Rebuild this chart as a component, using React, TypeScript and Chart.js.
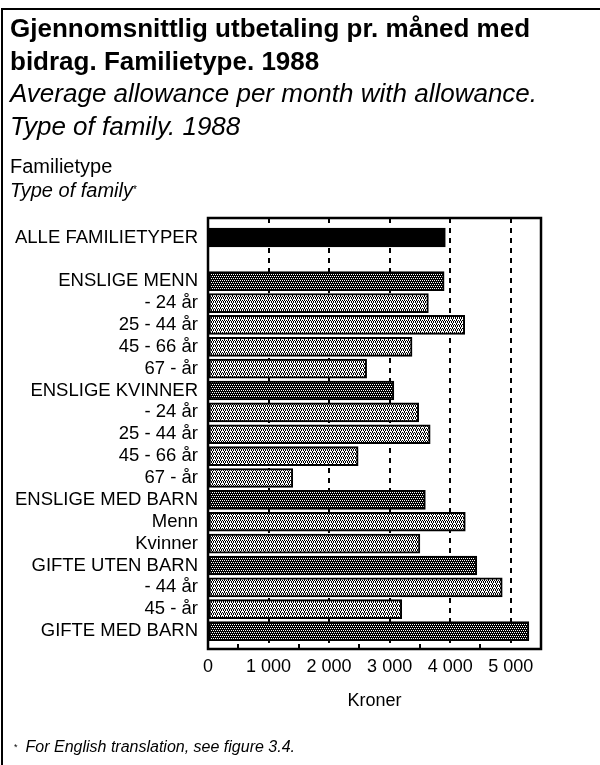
import React, { useEffect, useRef } from 'react';
import { Chart, registerables } from 'chart.js';

Chart.register(...registerables);

const FONT = "'Liberation Sans', Arial, Helvetica, sans-serif";

// ---- data ----
const categories = [
  'ALLE FAMILIETYPER',
  '',
  'ENSLIGE MENN',
  '- 24 år',
  '25 - 44 år',
  '45 - 66 år',
  '67 - år',
  'ENSLIGE KVINNER',
  '- 24 år',
  '25 - 44 år',
  '45 - 66 år',
  '67 - år',
  'ENSLIGE MED BARN',
  'Menn',
  'Kvinner',
  'GIFTE UTEN BARN',
  '- 44 år',
  '45 - år',
  'GIFTE MED BARN',
];
const levels = [
  'total', 'gap',
  'group', 'sub', 'sub', 'sub', 'sub',
  'group', 'sub', 'sub', 'sub', 'sub',
  'group', 'sub', 'sub',
  'group', 'sub', 'sub',
  'group',
];
const allowance: (number | null)[] = [
  3920, null,
  3900, 3640, 4240, 3370, 2620,
  3070, 3480, 3670, 2480, 1400,
  3590, 4250, 3500,
  4440, 4860, 3200,
  5300,
];
const xTicks = [0, 1000, 2000, 3000, 4000, 5000];
const minorTicks = [500, 1500, 2500, 3500, 4500];
const xMax = 5500;

const fmt = (v: number) => String(v).replace(/\B(?=(\d{3})+(?!\d))/g, ' ');

const framePlugin = {
  id: 'frame',
  afterDatasetsDraw(chart: any) {
    const { ctx, chartArea: a, scales } = chart;
    const x = scales.x;
    ctx.save();
    ctx.strokeStyle = '#000';
    ctx.lineWidth = 2.5;
    ctx.strokeRect(a.left, a.top, a.right - a.left, a.bottom - a.top);
    ctx.lineWidth = 2;
    minorTicks.forEach((v) => {
      const px = Math.round(x.getPixelForValue(v));
      ctx.beginPath();
      ctx.moveTo(px, a.bottom);
      ctx.lineTo(px, a.bottom - 5);
      ctx.stroke();
    });
    ctx.restore();
  },
};

export default function App() {
  const ref = useRef<HTMLCanvasElement>(null);

  useEffect(() => {
    const canvas = ref.current!;
    const ctx = canvas.getContext('2d')!;
    const tile = (bg: string, fg: string, dots: number[][]) => {
      const c = document.createElement('canvas');
      c.width = 4;
      c.height = 4;
      const g = c.getContext('2d')!;
      g.fillStyle = bg;
      g.fillRect(0, 0, 4, 4);
      g.fillStyle = fg;
      dots.forEach(([dx, dy]) => g.fillRect(dx, dy, 1, 1));
      return ctx.createPattern(c, 'repeat')!;
    };
    const dark = tile('#000', '#fff', [[0, 0], [2, 0], [1, 2], [3, 2]]);
    const light = tile('#fff', '#000', [[0, 0], [2, 0], [1, 1], [3, 1], [1, 2], [3, 2], [0, 3]]);
    const styleOf = (lvl: string) => (lvl === 'total' ? '#000' : lvl === 'group' ? dark : light);

    const idx = allowance.map((_, i) => i).filter((i) => allowance[i] != null);

    Chart.defaults.font.family = FONT;

    const chart = new Chart(canvas, {
      type: 'bar',
      data: {
        datasets: [
          {
            data: idx.map((i) => ({ x: allowance[i] as number, y: i })),
            backgroundColor: idx.map((i) => styleOf(levels[i])) as any,
            borderColor: '#000',
            borderWidth: 2,
            borderSkipped: false,
            barThickness: 19,
          } as any,
        ],
      },
      options: {
        indexAxis: 'y',
        responsive: false,
        animation: false,
        layout: { padding: { left: 0, right: 59, top: 218, bottom: 50 } },
        plugins: {
          legend: { display: false },
          tooltip: { enabled: false },
        },
        scales: {
          x: {
            type: 'linear',
            min: 0,
            max: xMax,
            afterBuildTicks: (s: any) => {
              s.ticks = xTicks.map((v) => ({ value: v }));
            },
            afterFit: (s: any) => {
              s.height = 66;
            },
            ticks: {
              color: '#000',
              padding: 7,
              autoSkip: false,
              maxRotation: 0,
              font: { size: 18 },
              callback: (v: any) => fmt(Number(v)),
            },
            grid: {
              color: (c: any) => (c.tick && c.tick.value === 0 ? 'rgba(0,0,0,0)' : '#000'),
              lineWidth: 2,
              drawTicks: false,
            },
            border: { display: false, dash: [5, 5] },
            title: {
              display: true,
              text: 'Kroner',
              color: '#000',
              font: { size: 18 },
              padding: { top: 0, bottom: 3 },
            },
          },
          y: {
            type: 'linear',
            reverse: true,
            offset: false,
            bounds: 'data',
            min: -0.89,
            max: 18.82,
            afterBuildTicks: (s: any) => {
              s.ticks = categories.map((_, i) => ({ value: i }));
            },
            afterFit: (s: any) => {
              s.width = 208;
            },
            ticks: {
              color: '#000',
              padding: 10,
              autoSkip: false,
              font: { size: 18.5 },
              callback: (v: any) => categories[Number(v)] ?? '',
            },
            grid: { display: false, drawTicks: false, offset: false },
            border: { display: false },
          },
        } as any,
      },
      plugins: [framePlugin],
    });
    return () => chart.destroy();
  }, []);

  const abs = (s: React.CSSProperties): React.CSSProperties => ({
    position: 'absolute',
    whiteSpace: 'nowrap',
    fontFamily: FONT,
    color: '#000',
    margin: 0,
    ...s,
  });

  return (
    <div style={{ position: 'absolute', left: 0, top: 0, width: 600, height: 765, background: '#fff', overflow: 'hidden' }}>
      <div
        style={{
          position: 'absolute',
          left: 1,
          top: 8,
          width: 599,
          height: 757,
          borderTop: '2px solid #000',
          borderLeft: '2px solid #000',
          boxSizing: 'border-box',
        }}
      />
      <canvas ref={ref} width={600} height={765} style={{ position: 'absolute', left: 0, top: 0, width: 600, height: 765 }} />
      <div style={abs({ left: 10, top: 11.5, fontSize: 26, fontWeight: 'bold', lineHeight: '33px' })}>
        <div>Gjennomsnittlig utbetaling pr. måned med</div>
        <div>bidrag. Familietype. 1988</div>
      </div>
      <div style={abs({ left: 10, top: 76.5, fontSize: 26, fontStyle: 'italic', lineHeight: '33px' })}>
        <div>Average allowance per month with allowance.</div>
        <div>Type of family. 1988</div>
      </div>
      <div style={abs({ left: 10, top: 154, fontSize: 20, lineHeight: '24px' })}>
        <div>Familietype</div>
        <div style={{ fontStyle: 'italic' }}>
          Type of family<span style={{ fontSize: 10, verticalAlign: 'top', fontStyle: 'normal' }}>*</span>
        </div>
      </div>
      <div style={abs({ left: 14, top: 737, fontSize: 16, lineHeight: '20px', fontStyle: 'italic' })}>
        <span style={{ fontSize: 9, verticalAlign: 'top', fontStyle: 'normal', marginRight: 8 }}>*</span>
        For English translation, see figure 3.4.
      </div>
    </div>
  );
}
